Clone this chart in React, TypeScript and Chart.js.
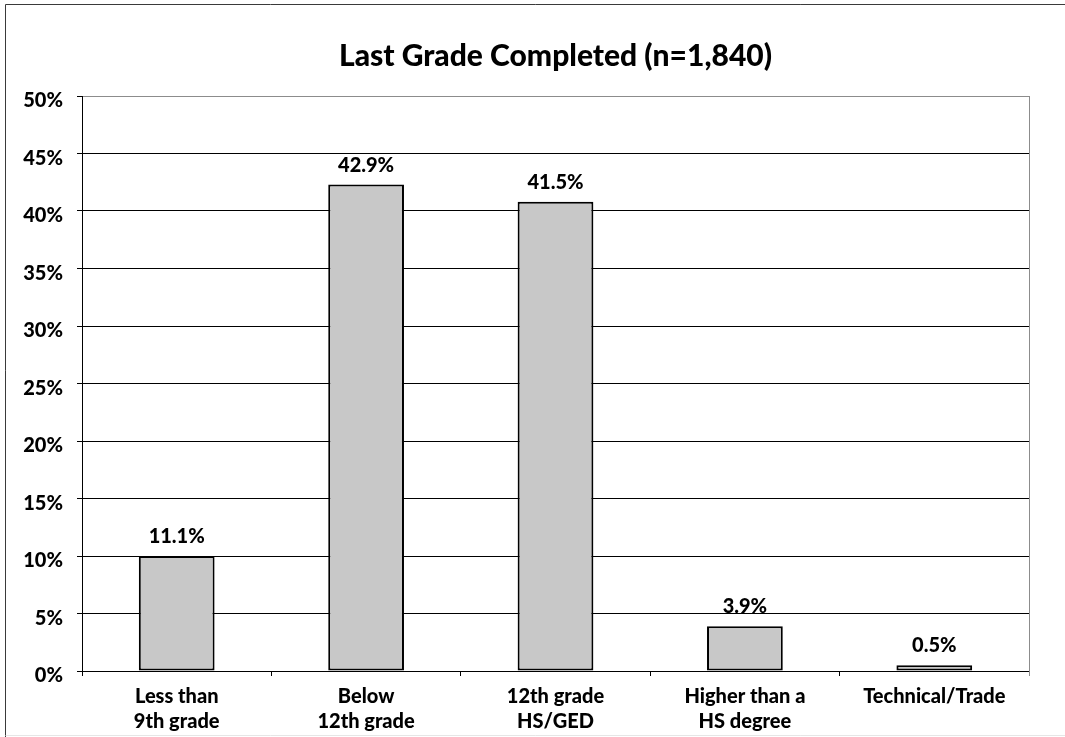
import React, { useEffect, useRef } from "react";
import { Chart, registerables } from "chart.js";

Chart.register(...registerables);

const chartTitle = "Last Grade Completed (n=1,840)";
const categories: string[][] = [
  ["Less than", "9th grade"],
  ["Below", "12th grade"],
  ["12th grade", "HS/GED"],
  ["Higher than a", "HS degree"],
  ["Technical/Trade"],
];
const barValues = [10.0, 42.3, 40.8, 3.9, 0.5];
const valueLabels = ["11.1%", "42.9%", "41.5%", "3.9%", "0.5%"];
const yMin = 0;
const yMax = 50;
const yStep = 5;

const FONT = 'Lato, "Open Sans", "DejaVu Sans", sans-serif';
const WEIGHT = "900";

const framePlugin = {
  id: "frame",
  beforeDraw(chart: any) {
    const { ctx, width, height } = chart;
    ctx.save();
    ctx.fillStyle = "#ffffff";
    ctx.fillRect(0, 0, width, height);
    ctx.lineWidth = 1;
    ctx.strokeStyle = "#3a3a3a";
    ctx.beginPath();
    ctx.moveTo(5.5, height);
    ctx.lineTo(5.5, 4.5);
    ctx.lineTo(width, 4.5);
    ctx.stroke();
    ctx.strokeStyle = "#e6e6e6";
    ctx.beginPath();
    ctx.moveTo(5.5, 735.5);
    ctx.lineTo(width, 735.5);
    ctx.stroke();
    ctx.restore();
  },
  afterDraw(chart: any) {
    const { ctx, chartArea } = chart;
    ctx.save();
    ctx.lineWidth = 1;
    ctx.strokeStyle = "#8c8c8c";
    const x = Math.round(chartArea.right) + 0.5;
    ctx.beginPath();
    ctx.moveTo(x, chartArea.top);
    ctx.lineTo(x, chartArea.bottom + 5);
    ctx.stroke();
    ctx.restore();
  },
};

const valueLabelPlugin = {
  id: "valueLabels",
  afterDatasetsDraw(chart: any) {
    const { ctx } = chart;
    const meta = chart.getDatasetMeta(0);
    ctx.save();
    ctx.fillStyle = "#000000";
    ctx.font = `${WEIGHT} 20px ${FONT}`;
    ctx.textAlign = "center";
    ctx.textBaseline = "alphabetic";
    meta.data.forEach((bar: any, i: number) => {
      ctx.fillText(valueLabels[i], bar.x, bar.y - 13);
    });
    ctx.restore();
  },
};

export default function App() {
  const canvasRef = useRef<HTMLCanvasElement | null>(null);

  useEffect(() => {
    if (!canvasRef.current) return;
    const chart = new Chart(canvasRef.current, {
      type: "bar",
      data: {
        labels: categories,
        datasets: [
          {
            data: barValues,
            backgroundColor: "#c8c8c8",
            borderColor: "#000000",
            borderWidth: 2,
            borderSkipped: false,
            barPercentage: 0.4,
            categoryPercentage: 1.0,
          },
        ],
      },
      options: {
        responsive: false,
        animation: false,
        layout: { padding: { left: 0, right: 36, top: 0, bottom: 0 } },
        plugins: {
          legend: { display: false },
          tooltip: { enabled: false },
          title: {
            display: true,
            text: chartTitle,
            fullSize: false,
            color: "#000000",
            font: { family: FONT, size: 30, weight: WEIGHT, lineHeight: 1.2 },
            padding: { top: 38, bottom: 22 },
          },
        },
        scales: {
          x: {
            grid: {
              display: true,
              drawOnChartArea: false,
              drawTicks: true,
              tickLength: 5,
              color: "#000000",
              offset: true,
            },
            border: { display: true, color: "#000000", width: 1 },
            ticks: {
              color: "#000000",
              font: { family: FONT, size: 20, weight: WEIGHT, lineHeight: 1.25 },
              padding: 8,
              maxRotation: 0,
              autoSkip: false,
            },
            afterFit(scale: any) {
              scale.height = 66;
            },
          },
          y: {
            min: yMin,
            max: yMax,
            grid: {
              color: (c: any) => (c.tick && c.tick.value === yMax ? "#8c8c8c" : "#000000"),
              tickColor: "#000000",
              drawTicks: true,
              tickLength: 5,
              lineWidth: 1,
            },
            border: { display: true, color: "#000000", width: 1 },
            ticks: {
              stepSize: yStep,
              color: "#000000",
              padding: 14,
              labelOffset: 5,
              font: { family: FONT, size: 20, weight: WEIGHT },
              callback: (v: any) => `${v}%`,
            },
            afterFit(scale: any) {
              scale.width = 82;
            },
          },
        },
      },
      plugins: [framePlugin, valueLabelPlugin],
    });
    return () => chart.destroy();
  }, []);

  return (
    <div style={{ position: "fixed", left: 0, top: 0, width: 1065, height: 737, background: "#fff" }}>
      <canvas ref={canvasRef} width={1065} height={737} />
    </div>
  );
}
